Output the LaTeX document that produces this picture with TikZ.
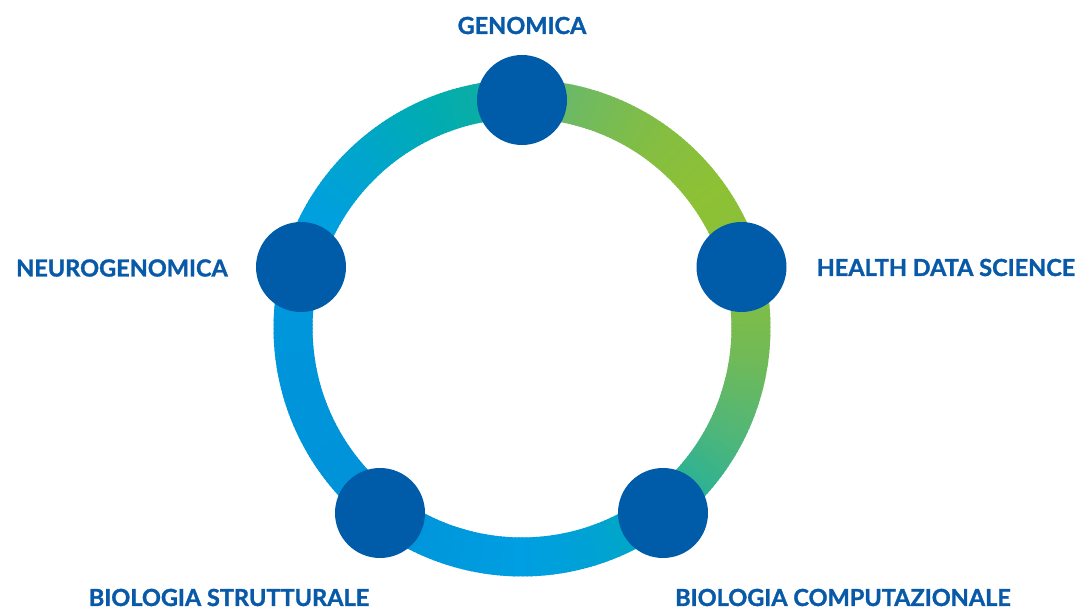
\documentclass[tikz,border=0pt]{standalone}
\usepackage{fontspec}
\setmainfont{Lato}
\newfontfamily\lblfont{Lato}[UprightFont=* Bold, UprightFeatures={FakeBold=1.3}]
\definecolor{nodeblue}{RGB}{0,92,168}
\definecolor{textblue}{RGB}{8,90,168}
\definecolor{g1}{RGB}{0,158,226}   % -90
\definecolor{g2}{RGB}{0,163,210}   % -70
\definecolor{g3}{RGB}{0,170,188}   % -57
\definecolor{g4}{RGB}{40,177,152}  % -45
\definecolor{g5}{RGB}{78,182,122}  % -28
\definecolor{g6}{RGB}{112,186,88}  % -8
\definecolor{g7}{RGB}{132,190,64}  % 12
\definecolor{g8}{RGB}{142,193,52}  % 35
\definecolor{g9}{RGB}{132,190,66}  % 55
\definecolor{g10}{RGB}{112,186,96} % 75
\definecolor{g11}{RGB}{95,182,115} % 88
\definecolor{g12}{RGB}{20,175,158} % 93
\definecolor{g13}{RGB}{0,172,176}  % 112
\definecolor{g14}{RGB}{0,166,200}  % 130
\definecolor{g15}{RGB}{0,160,222}  % 150
\definecolor{g16}{RGB}{0,150,220}  % 180
\definecolor{g17}{RGB}{0,146,216}  % 230
\begin{document}
\begin{tikzpicture}[x=1pt,y=1pt,
  hub/.style={circle, fill=nodeblue, minimum size=90pt, inner sep=0pt},
  lbl/.style={text=textblue, font=\lblfont\fontsize{23.5}{25}\selectfont, inner sep=0pt}]
\useasboundingbox (0,0) rectangle (1079,610);
\coordinate (c) at (522,282);
% gradient ring
\foreach \a/\b/\ca/\cb in {-90/-70/g1/g2, -70/-57/g2/g3, -57/-45/g3/g4, -45/-28/g4/g5,
  -28/-8/g5/g6, -8/12/g6/g7, 12/35/g7/g8, 35/55/g8/g9, 55/75/g9/g10, 75/88/g10/g11,
  88/93/g11/g12, 93/112/g12/g13, 112/130/g13/g14, 130/150/g14/g15, 150/180/g15/g16,
  180/230/g16/g17, 230/270/g17/g1} {
  \pgfmathtruncatemacro\n{\b-\a}
  \foreach \k in {1,...,\n} {
    \pgfmathsetmacro\t{\a+\k-1}
    \pgfmathsetmacro\p{100*(\k-0.5)/\n}
    \pgfmathsetmacro\e{\t+1.4}
    \draw[line width=39pt, color=\cb!\p!\ca] ([shift={(\t:229)}]c) arc[start angle=\t, end angle=\e, radius=229];
  }
}
% hubs
\node[hub] (gen) at (522,510) {};
\node[hub] (neu) at (301,343) {};
\node[hub] (hds) at (741.5,343) {};
\node[hub] (bst) at (380,97) {};
\node[hub] (bco) at (663,97) {};
% labels
\node[lbl] (tgen) at (522,584.5) {GENOMICA};
\node[lbl, anchor=east] (tneu) at (228,342) {NEUROGENOMICA};
\node[lbl, anchor=west] (thds) at (816.5,342.5) {HEALTH DATA SCIENCE};
\node[lbl] (tbst) at (229,12.5) {BIOLOGIA STRUTTURALE};
\node[lbl] (tbco) at (843,12.5) {BIOLOGIA COMPUTAZIONALE};
\end{tikzpicture}
\end{document}
